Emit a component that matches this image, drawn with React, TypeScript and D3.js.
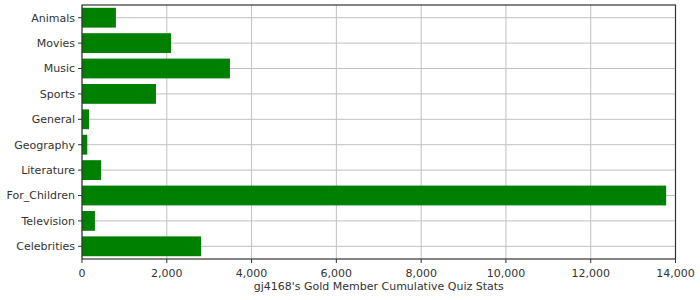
import React from "react";
import * as d3 from "d3";

const categories = ["Animals", "Movies", "Music", "Sports", "General", "Geography", "Literature", "For_Children", "Television", "Celebrities"];
const values = [800, 2100, 3490, 1745, 165, 125, 450, 13780, 305, 2810];
const xTicks = [0, 2000, 4000, 6000, 8000, 10000, 12000, 14000];
const xTitle = "gj4168's Gold Member Cumulative Quiz Stats";

export default function App() {
  const W = 700, H = 300;
  const left = 82, right = 675.5, top = 5, bottom = 259;
  const x = d3.scaleLinear().domain([0, 14000]).range([left, right]);
  const y = d3.scaleBand<string>().domain(categories).range([top, bottom]).paddingInner(0.22).paddingOuter(0.11);
  const fmt = d3.format(",");
  const font = "'DejaVu Sans', sans-serif";
  return (
    <svg width={W} height={H} style={{ position: "absolute", left: 0, top: 0 }} fontFamily={font}>
      <rect x={0} y={0} width={W} height={H} fill="#fff" />
      {xTicks.map((t) => (
        <line key={"gx" + t} x1={x(t)} x2={x(t)} y1={top} y2={bottom} stroke="#c0c0c0" strokeWidth={1} />
      ))}
      {categories.map((c) => {
        const cy = (y(c) as number) + y.bandwidth() / 2;
        return <line key={"gy" + c} x1={left} x2={right} y1={cy} y2={cy} stroke="#c0c0c0" strokeWidth={1} />;
      })}
      {categories.map((c, i) => (
        <rect key={"b" + c} x={x(0)} y={y(c) as number} width={x(values[i]) - x(0)} height={y.bandwidth()} fill="#008000" />
      ))}
      <rect x={left} y={top} width={right - left} height={bottom - top} fill="none" stroke="#333" strokeWidth={1.2} />
      {categories.map((c) => {
        const cy = (y(c) as number) + y.bandwidth() / 2;
        return (
          <g key={"yl" + c}>
            <line x1={left - 4} x2={left} y1={cy} y2={cy} stroke="#333" />
            <text x={left - 7} y={cy} dy="0.35em" textAnchor="end" fontSize={11} fill="#333">{c}</text>
          </g>
        );
      })}
      {xTicks.map((t) => (
        <g key={"xl" + t}>
          <line x1={x(t)} x2={x(t)} y1={bottom} y2={bottom + 4} stroke="#333" />
          <text x={x(t)} y={276.5} textAnchor="middle" fontSize={11} fill="#333">{fmt(t)}</text>
        </g>
      ))}
      <text x={(left + right) / 2} y={290} textAnchor="middle" fontSize={11} fill="#333">{xTitle}</text>
    </svg>
  );
}
